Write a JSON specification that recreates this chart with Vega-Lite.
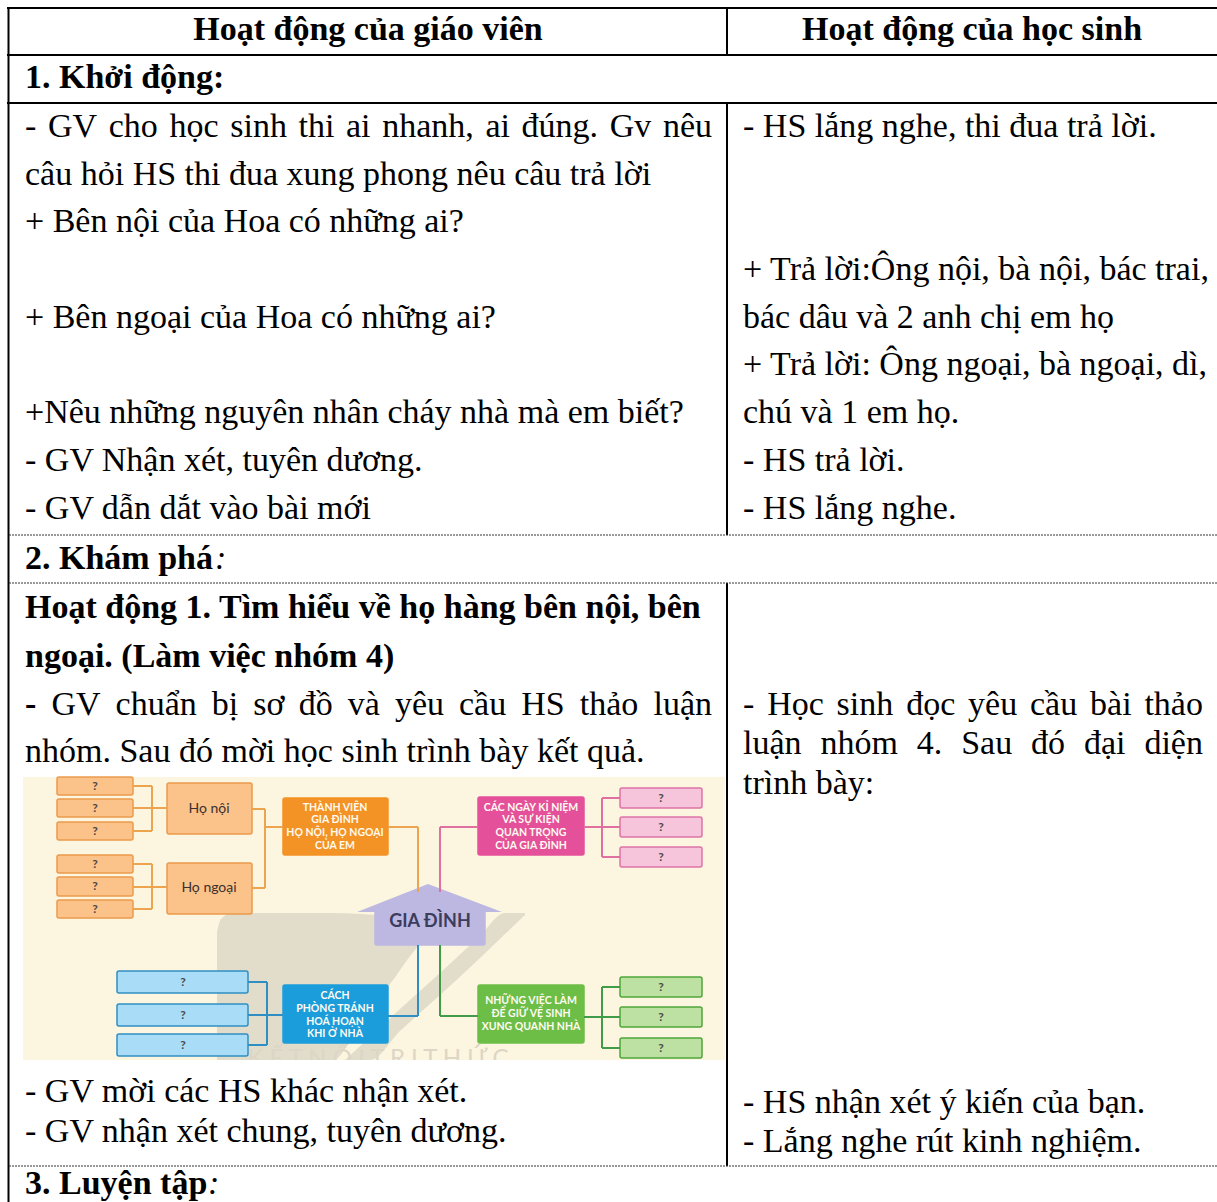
{
  "$schema": "https://vega.github.io/schema/vega-lite/v6.json",
  "width": 1217,
  "height": 1202,
  "autosize": {"type": "none"},
  "padding": 0,
  "background": "white",
  "config": {"view": {"stroke": null}},
  "resolve": {"scale": {"color": "independent", "stroke": "independent"}},
  "datasets": {
    "boxes": [
      {"x1": 57, "x2": 133, "y1": 777, "y2": 795, "kind": "osmall"},
      {"x1": 57, "x2": 133, "y1": 799, "y2": 817, "kind": "osmall"},
      {"x1": 57, "x2": 133, "y1": 822, "y2": 840, "kind": "osmall"},
      {"x1": 57, "x2": 133, "y1": 855, "y2": 873, "kind": "osmall"},
      {"x1": 57, "x2": 133, "y1": 877, "y2": 896, "kind": "osmall"},
      {"x1": 57, "x2": 133, "y1": 900, "y2": 918, "kind": "osmall"},
      {"x1": 167, "x2": 252, "y1": 783, "y2": 834, "kind": "omid"},
      {"x1": 167, "x2": 252, "y1": 863, "y2": 914, "kind": "omid"},
      {"x1": 283, "x2": 388, "y1": 798, "y2": 855, "kind": "odark"},
      {"x1": 478, "x2": 584, "y1": 797, "y2": 855, "kind": "pdark"},
      {"x1": 620, "x2": 702, "y1": 788, "y2": 808, "kind": "psmall"},
      {"x1": 620, "x2": 702, "y1": 817, "y2": 837, "kind": "psmall"},
      {"x1": 620, "x2": 702, "y1": 847, "y2": 867, "kind": "psmall"},
      {"x1": 117, "x2": 248, "y1": 971, "y2": 993, "kind": "bsmall"},
      {"x1": 117, "x2": 248, "y1": 1004, "y2": 1026, "kind": "bsmall"},
      {"x1": 117, "x2": 248, "y1": 1034, "y2": 1056, "kind": "bsmall"},
      {"x1": 283, "x2": 388, "y1": 985, "y2": 1043, "kind": "bdark"},
      {"x1": 478, "x2": 584, "y1": 985, "y2": 1043, "kind": "gdark"},
      {"x1": 620, "x2": 702, "y1": 977, "y2": 997, "kind": "gsmall"},
      {"x1": 620, "x2": 702, "y1": 1007, "y2": 1027, "kind": "gsmall"},
      {"x1": 620, "x2": 702, "y1": 1038, "y2": 1058, "kind": "gsmall"},
      {"x1": 375, "x2": 485, "y1": 911, "y2": 945, "kind": "house"}
    ],
    "panels": [
      {"x1": 23, "x2": 725, "y1": 777, "y2": 1060, "kind": "bg"},
      {"x1": 23, "x2": 725, "y1": 1060, "y2": 1070, "kind": "cover"}
    ],
    "wm": [
      {"x": 217, "top": 932, "bot": 1060, "part": "a"},
      {"x": 221, "top": 919, "bot": 1060, "part": "a"},
      {"x": 232, "top": 913, "bot": 1060, "part": "a"},
      {"x": 333, "top": 913, "bot": 1060, "part": "a"},
      {"x": 360, "top": 914, "bot": 1024, "part": "a"},
      {"x": 390, "top": 917, "bot": 984, "part": "a"},
      {"x": 420, "top": 925, "bot": 944, "part": "a"},
      {"x": 428, "top": 934, "bot": 936, "part": "a"},
      {"x": 345, "top": 1060, "bot": 1060, "part": "b"},
      {"x": 370, "top": 1037, "bot": 1060, "part": "b"},
      {"x": 400, "top": 1009, "bot": 1031, "part": "b"},
      {"x": 440, "top": 973, "bot": 995, "part": "b"},
      {"x": 480, "top": 936, "bot": 958, "part": "b"},
      {"x": 505, "top": 913, "bot": 934, "part": "b"},
      {"x": 525, "top": 913, "bot": 915, "part": "b"}
    ],
    "roof": [
      {"x": 357, "y": 912, "base": 912},
      {"x": 428, "y": 884, "base": 912},
      {"x": 502, "y": 912, "base": 912}
    ],
    "links": [
      {"x1": 133, "x2": 152, "y1": 786, "y2": 786, "g": "o"},
      {"x1": 152, "x2": 152, "y1": 786, "y2": 831, "g": "o"},
      {"x1": 133, "x2": 152, "y1": 831, "y2": 831, "g": "o"},
      {"x1": 133, "x2": 167, "y1": 808, "y2": 808, "g": "o"},
      {"x1": 133, "x2": 152, "y1": 864, "y2": 864, "g": "o"},
      {"x1": 152, "x2": 152, "y1": 864, "y2": 909, "g": "o"},
      {"x1": 133, "x2": 152, "y1": 909, "y2": 909, "g": "o"},
      {"x1": 133, "x2": 167, "y1": 887, "y2": 887, "g": "o"},
      {"x1": 252, "x2": 265, "y1": 809, "y2": 809, "g": "o"},
      {"x1": 265, "x2": 265, "y1": 809, "y2": 888, "g": "o"},
      {"x1": 252, "x2": 265, "y1": 888, "y2": 888, "g": "o"},
      {"x1": 265, "x2": 283, "y1": 827, "y2": 827, "g": "o"},
      {"x1": 388, "x2": 418, "y1": 827, "y2": 827, "g": "o"},
      {"x1": 418, "x2": 418, "y1": 827, "y2": 892, "g": "o"},
      {"x1": 440, "x2": 440, "y1": 827, "y2": 892, "g": "p"},
      {"x1": 440, "x2": 478, "y1": 827, "y2": 827, "g": "p"},
      {"x1": 584, "x2": 620, "y1": 827, "y2": 827, "g": "p"},
      {"x1": 602, "x2": 602, "y1": 798, "y2": 857, "g": "p"},
      {"x1": 602, "x2": 620, "y1": 798, "y2": 798, "g": "p"},
      {"x1": 602, "x2": 620, "y1": 857, "y2": 857, "g": "p"},
      {"x1": 418, "x2": 418, "y1": 945, "y2": 1016, "g": "b"},
      {"x1": 388, "x2": 418, "y1": 1016, "y2": 1016, "g": "b"},
      {"x1": 248, "x2": 267, "y1": 982, "y2": 982, "g": "b"},
      {"x1": 267, "x2": 267, "y1": 982, "y2": 1045, "g": "b"},
      {"x1": 248, "x2": 267, "y1": 1045, "y2": 1045, "g": "b"},
      {"x1": 248, "x2": 283, "y1": 1015, "y2": 1015, "g": "b"},
      {"x1": 440, "x2": 440, "y1": 945, "y2": 1016, "g": "g"},
      {"x1": 440, "x2": 478, "y1": 1016, "y2": 1016, "g": "g"},
      {"x1": 584, "x2": 620, "y1": 1017, "y2": 1017, "g": "g"},
      {"x1": 602, "x2": 602, "y1": 987, "y2": 1048, "g": "g"},
      {"x1": 602, "x2": 620, "y1": 987, "y2": 987, "g": "g"},
      {"x1": 602, "x2": 620, "y1": 1048, "y2": 1048, "g": "g"}
    ],
    "qmarks": [
      {"x": 95, "y": 786}, {"x": 95, "y": 808}, {"x": 95, "y": 831},
      {"x": 95, "y": 864}, {"x": 95, "y": 886}, {"x": 95, "y": 909},
      {"x": 661, "y": 798}, {"x": 661, "y": 827}, {"x": 661, "y": 857},
      {"x": 183, "y": 982}, {"x": 183, "y": 1015}, {"x": 183, "y": 1045},
      {"x": 661, "y": 987}, {"x": 661, "y": 1017}, {"x": 661, "y": 1048}
    ],
    "boxlabels": [
      {"t": "THÀNH VIÊN", "x": 335, "y": 808},
      {"t": "GIA ĐÌNH", "x": 335, "y": 820},
      {"t": "HỌ NỘI, HỌ NGOẠI", "x": 335, "y": 833},
      {"t": "CỦA EM", "x": 335, "y": 846},
      {"t": "CÁC NGÀY KỈ NIỆM", "x": 531, "y": 808},
      {"t": "VÀ SỰ KIỆN", "x": 531, "y": 820},
      {"t": "QUAN TRỌNG", "x": 531, "y": 833},
      {"t": "CỦA GIA ĐÌNH", "x": 531, "y": 846},
      {"t": "CÁCH", "x": 335, "y": 996},
      {"t": "PHÒNG TRÁNH", "x": 335, "y": 1009},
      {"t": "HOÁ HOẠN", "x": 335, "y": 1022},
      {"t": "KHI Ở NHÀ", "x": 335, "y": 1034},
      {"t": "NHỮNG VIỆC LÀM", "x": 531, "y": 1001},
      {"t": "ĐỂ GIỮ VỆ SINH", "x": 531, "y": 1014},
      {"t": "XUNG QUANH NHÀ", "x": 531, "y": 1027}
    ],
    "midlabels": [
      {"t": "Họ nội", "x": 209, "y": 809},
      {"t": "Họ ngoại", "x": 209, "y": 888}
    ],
    "lines": [
      {"x1": 7, "x2": 1217, "y1": 8, "y2": 8, "k": "solid"},
      {"x1": 7, "x2": 1217, "y1": 55, "y2": 55, "k": "solid"},
      {"x1": 7, "x2": 1217, "y1": 103, "y2": 103, "k": "solid"},
      {"x1": 8.5, "x2": 8.5, "y1": 7, "y2": 1202, "k": "solid"},
      {"x1": 727, "x2": 727, "y1": 8, "y2": 55, "k": "solid"},
      {"x1": 727, "x2": 727, "y1": 103, "y2": 535, "k": "solid"},
      {"x1": 727, "x2": 727, "y1": 583, "y2": 1166, "k": "solid"},
      {"x1": 9, "x2": 1217, "y1": 535, "y2": 535, "k": "dash"},
      {"x1": 9, "x2": 1217, "y1": 583, "y2": 583, "k": "dash"},
      {"x1": 9, "x2": 1217, "y1": 1166, "y2": 1166, "k": "dash"}
    ],
    "cells": [
      {"t": "Hoạt động của giáo viên", "x": 368, "y": 40, "s": "h"},
      {"t": "Hoạt động của học sinh", "x": 972, "y": 40, "s": "h"},
      {"t": "1. Khởi động:", "x": 25, "y": 88, "s": "b"},
      {"t": "-", "x": 25, "y": 137, "s": "n"},
      {"t": "GV", "x": 47.9, "y": 137, "s": "n"},
      {"t": "cho", "x": 108.7, "y": 137, "s": "n"},
      {"t": "học", "x": 169.4, "y": 137, "s": "n"},
      {"t": "sinh", "x": 230.2, "y": 137, "s": "n"},
      {"t": "thi", "x": 298.5, "y": 137, "s": "n"},
      {"t": "ai", "x": 346, "y": 137, "s": "n"},
      {"t": "nhanh,", "x": 382.2, "y": 137, "s": "n"},
      {"t": "ai", "x": 485.4, "y": 137, "s": "n"},
      {"t": "đúng.", "x": 521.6, "y": 137, "s": "n"},
      {"t": "Gv", "x": 609.7, "y": 137, "s": "n"},
      {"t": "nêu", "x": 662.9, "y": 137, "s": "n"},
      {"t": "câu hỏi HS thi đua xung phong nêu câu trả lời", "x": 25, "y": 185, "s": "n"},
      {"t": "+ Bên nội của Hoa có những ai?", "x": 25, "y": 232, "s": "n"},
      {"t": "+ Bên ngoại của Hoa có những ai?", "x": 25, "y": 328, "s": "n"},
      {"t": "+Nêu những nguyên nhân cháy nhà mà em biết?", "x": 25, "y": 423, "s": "n"},
      {"t": "- GV Nhận xét, tuyên dương.", "x": 25, "y": 471, "s": "n"},
      {"t": "- GV dẫn dắt vào bài mới", "x": 25, "y": 519, "s": "n"},
      {"t": "- HS lắng nghe, thi đua trả lời.", "x": 743, "y": 137, "s": "n"},
      {"t": "+ Trả lời:Ông nội, bà nội, bác trai,", "x": 743, "y": 280, "s": "n"},
      {"t": "bác dâu và 2 anh chị em họ", "x": 743, "y": 328, "s": "n"},
      {"t": "+ Trả lời: Ông ngoại, bà ngoại, dì,", "x": 743, "y": 375, "s": "n"},
      {"t": "chú và 1 em họ.", "x": 743, "y": 423, "s": "n"},
      {"t": "- HS trả lời.", "x": 743, "y": 471, "s": "n"},
      {"t": "- HS lắng nghe.", "x": 743, "y": 519, "s": "n"},
      {"t": "2. Khám phá", "x": 25, "y": 569, "s": "b"},
      {"t": ":", "x": 215, "y": 569, "s": "i"},
      {"t": "Hoạt động 1. Tìm hiểu về họ hàng bên nội, bên", "x": 25, "y": 618, "s": "b"},
      {"t": "ngoại. (Làm việc nhóm 4)", "x": 25, "y": 667, "s": "b"},
      {"t": "-", "x": 25, "y": 715, "s": "b"},
      {"t": "GV", "x": 51.4, "y": 715, "s": "n"},
      {"t": "chuẩn", "x": 115.6, "y": 715, "s": "n"},
      {"t": "bị", "x": 211.8, "y": 715, "s": "n"},
      {"t": "sơ", "x": 253.3, "y": 715, "s": "n"},
      {"t": "đồ", "x": 298.7, "y": 715, "s": "n"},
      {"t": "và", "x": 347.7, "y": 715, "s": "n"},
      {"t": "yêu", "x": 394.9, "y": 715, "s": "n"},
      {"t": "cầu", "x": 459.0, "y": 715, "s": "n"},
      {"t": "HS", "x": 521.3, "y": 715, "s": "n"},
      {"t": "thảo", "x": 579.8, "y": 715, "s": "n"},
      {"t": "luận", "x": 653.5, "y": 715, "s": "n"},
      {"t": "nhóm. Sau đó mời học sinh trình bày kết quả.", "x": 25, "y": 762, "s": "n"},
      {"t": "-", "x": 743, "y": 715, "s": "n"},
      {"t": "Học", "x": 767.2, "y": 715, "s": "n"},
      {"t": "sinh", "x": 836.6, "y": 715, "s": "n"},
      {"t": "đọc", "x": 906.2, "y": 715, "s": "n"},
      {"t": "yêu", "x": 968.1, "y": 715, "s": "n"},
      {"t": "cầu", "x": 1030.0, "y": 715, "s": "n"},
      {"t": "bài", "x": 1090.1, "y": 715, "s": "n"},
      {"t": "thảo", "x": 1144.4, "y": 715, "s": "n"},
      {"t": "luận", "x": 743, "y": 754, "s": "n"},
      {"t": "nhóm", "x": 820.5, "y": 754, "s": "n"},
      {"t": "4.", "x": 916.8, "y": 754, "s": "n"},
      {"t": "Sau", "x": 961.2, "y": 754, "s": "n"},
      {"t": "đó", "x": 1031.1, "y": 754, "s": "n"},
      {"t": "đại", "x": 1084.0, "y": 754, "s": "n"},
      {"t": "diện", "x": 1144.4, "y": 754, "s": "n"},
      {"t": "trình bày:", "x": 743, "y": 794, "s": "n"},
      {"t": "- GV mời các HS khác nhận xét.", "x": 25, "y": 1102, "s": "n"},
      {"t": "- GV nhận xét chung, tuyên dương.", "x": 25, "y": 1142, "s": "n"},
      {"t": "- HS nhận xét ý kiến của bạn.", "x": 743, "y": 1113, "s": "n"},
      {"t": "- Lắng nghe rút kinh nghiệm.", "x": 743, "y": 1152, "s": "n"},
      {"t": "3. Luyện tập", "x": 25, "y": 1194, "s": "b"},
      {"t": ":", "x": 208, "y": 1194, "s": "i"}
    ]
  },
  "layer": [
    {
      "data": {"name": "panels"},
      "transform": [{"filter": "datum.kind == 'bg'"}],
      "mark": {"type": "rect", "color": "#fcf5df"},
      "encoding": {
        "x": {"field": "x1", "type": "quantitative", "scale": {"domain": [0, 1217], "nice": false, "zero": false}, "axis": null},
        "x2": {"field": "x2"},
        "y": {"field": "y1", "type": "quantitative", "scale": {"domain": [0, 1202], "nice": false, "zero": false, "reverse": true}, "axis": null},
        "y2": {"field": "y2"}
      }
    },
    {
      "data": {"name": "wm"},
      "mark": {"type": "area", "color": "#e2dccb", "interpolate": "monotone"},
      "encoding": {
        "x": {"field": "x", "type": "quantitative", "scale": {"domain": [0, 1217], "nice": false, "zero": false}, "axis": null},
        "y": {"field": "top", "type": "quantitative", "scale": {"domain": [0, 1202], "nice": false, "zero": false, "reverse": true}, "axis": null},
        "y2": {"field": "bot"},
        "detail": {"field": "part", "type": "nominal"}
      }
    },
    {
      "data": {"values": [{"t": "K Ế T   N Ố I   T R I   T H Ứ C", "x": 378, "y": 1066}]},
      "mark": {"type": "text", "font": "Lato", "fontSize": 24, "color": "#ddd6c6", "baseline": "alphabetic", "align": "center"},
      "encoding": {
        "x": {"field": "x", "type": "quantitative", "scale": {"domain": [0, 1217], "nice": false, "zero": false}, "axis": null},
        "y": {"field": "y", "type": "quantitative", "scale": {"domain": [0, 1202], "nice": false, "zero": false, "reverse": true}, "axis": null},
        "text": {"field": "t"}
      }
    },
    {
      "data": {"name": "panels"},
      "transform": [{"filter": "datum.kind == 'cover'"}],
      "mark": {"type": "rect", "color": "#ffffff"},
      "encoding": {
        "x": {"field": "x1", "type": "quantitative", "scale": {"domain": [0, 1217], "nice": false, "zero": false}, "axis": null},
        "x2": {"field": "x2"},
        "y": {"field": "y1", "type": "quantitative", "scale": {"domain": [0, 1202], "nice": false, "zero": false, "reverse": true}, "axis": null},
        "y2": {"field": "y2"}
      }
    },
    {
      "data": {"name": "boxes"},
      "mark": {"type": "rect", "strokeWidth": 1.5, "cornerRadius": 2},
      "encoding": {
        "x": {"field": "x1", "type": "quantitative", "scale": {"domain": [0, 1217], "nice": false, "zero": false}, "axis": null},
        "x2": {"field": "x2"},
        "y": {"field": "y1", "type": "quantitative", "scale": {"domain": [0, 1202], "nice": false, "zero": false, "reverse": true}, "axis": null},
        "y2": {"field": "y2"},
        "color": {"field": "kind", "type": "nominal", "legend": null,
          "scale": {"domain": ["osmall", "omid", "odark", "pdark", "psmall", "bsmall", "bdark", "gdark", "gsmall", "house"],
                    "range": ["#fbc28a", "#fbc28a", "#f39325", "#e4519a", "#f6c5dc", "#a9dcf6", "#1b9ddc", "#6dbe47", "#bde0a3", "#bcb8e2"]}},
        "stroke": {"field": "kind", "type": "nominal", "legend": null,
          "scale": {"domain": ["osmall", "omid", "odark", "pdark", "psmall", "bsmall", "bdark", "gdark", "gsmall", "house"],
                    "range": ["#eb9a4c", "#eb9a4c", "#f39325", "#e4519a", "#dd74a8", "#2f8fc4", "#1b9ddc", "#6dbe47", "#4ea63a", "#bcb8e2"]}}
      }
    },
    {
      "data": {"name": "roof"},
      "mark": {"type": "area", "color": "#bcb8e2", "interpolate": "linear"},
      "encoding": {
        "x": {"field": "x", "type": "quantitative", "scale": {"domain": [0, 1217], "nice": false, "zero": false}, "axis": null},
        "y": {"field": "y", "type": "quantitative", "scale": {"domain": [0, 1202], "nice": false, "zero": false, "reverse": true}, "axis": null},
        "y2": {"field": "base"}
      }
    },
    {
      "data": {"name": "links"},
      "mark": {"type": "rule", "strokeWidth": 2},
      "encoding": {
        "x": {"field": "x1", "type": "quantitative", "scale": {"domain": [0, 1217], "nice": false, "zero": false}, "axis": null},
        "x2": {"field": "x2"},
        "y": {"field": "y1", "type": "quantitative", "scale": {"domain": [0, 1202], "nice": false, "zero": false, "reverse": true}, "axis": null},
        "y2": {"field": "y2"},
        "stroke": {"field": "g", "type": "nominal", "legend": null,
          "scale": {"domain": ["o", "p", "b", "g"], "range": ["#eda44e", "#e0709f", "#2f8fc4", "#3f9d4a"]}}
      }
    },
    {
      "data": {"name": "qmarks"},
      "mark": {"type": "text", "text": "?", "font": "Lato", "fontWeight": "bold", "fontSize": 12, "color": "#4a4a4a", "baseline": "middle", "align": "center"},
      "encoding": {
        "x": {"field": "x", "type": "quantitative", "scale": {"domain": [0, 1217], "nice": false, "zero": false}, "axis": null},
        "y": {"field": "y", "type": "quantitative", "scale": {"domain": [0, 1202], "nice": false, "zero": false, "reverse": true}, "axis": null}
      }
    },
    {
      "data": {"name": "boxlabels"},
      "mark": {"type": "text", "font": "Lato", "fontWeight": "bold", "fontSize": 10.5, "color": "#fffaf0", "baseline": "middle", "align": "center"},
      "encoding": {
        "x": {"field": "x", "type": "quantitative", "scale": {"domain": [0, 1217], "nice": false, "zero": false}, "axis": null},
        "y": {"field": "y", "type": "quantitative", "scale": {"domain": [0, 1202], "nice": false, "zero": false, "reverse": true}, "axis": null},
        "text": {"field": "t"}
      }
    },
    {
      "data": {"name": "midlabels"},
      "mark": {"type": "text", "font": "Lato", "fontSize": 14, "color": "#3a3030", "baseline": "middle", "align": "center"},
      "encoding": {
        "x": {"field": "x", "type": "quantitative", "scale": {"domain": [0, 1217], "nice": false, "zero": false}, "axis": null},
        "y": {"field": "y", "type": "quantitative", "scale": {"domain": [0, 1202], "nice": false, "zero": false, "reverse": true}, "axis": null},
        "text": {"field": "t"}
      }
    },
    {
      "data": {"values": [{"t": "GIA ĐÌNH", "x": 430, "y": 922}]},
      "mark": {"type": "text", "font": "Lato", "fontWeight": "bold", "fontSize": 18, "color": "#3c3c5c", "baseline": "middle", "align": "center"},
      "encoding": {
        "x": {"field": "x", "type": "quantitative", "scale": {"domain": [0, 1217], "nice": false, "zero": false}, "axis": null},
        "y": {"field": "y", "type": "quantitative", "scale": {"domain": [0, 1202], "nice": false, "zero": false, "reverse": true}, "axis": null},
        "text": {"field": "t"}
      }
    },
    {
      "data": {"name": "lines"},
      "transform": [{"filter": "datum.k == 'solid'"}],
      "mark": {"type": "rule", "strokeWidth": 2, "color": "#000000"},
      "encoding": {
        "x": {"field": "x1", "type": "quantitative", "scale": {"domain": [0, 1217], "nice": false, "zero": false}, "axis": null},
        "x2": {"field": "x2"},
        "y": {"field": "y1", "type": "quantitative", "scale": {"domain": [0, 1202], "nice": false, "zero": false, "reverse": true}, "axis": null},
        "y2": {"field": "y2"}
      }
    },
    {
      "data": {"name": "lines"},
      "transform": [{"filter": "datum.k == 'dash'"}],
      "mark": {"type": "rule", "strokeWidth": 1, "color": "#333333", "strokeDash": [2, 1]},
      "encoding": {
        "x": {"field": "x1", "type": "quantitative", "scale": {"domain": [0, 1217], "nice": false, "zero": false}, "axis": null},
        "x2": {"field": "x2"},
        "y": {"field": "y1", "type": "quantitative", "scale": {"domain": [0, 1202], "nice": false, "zero": false, "reverse": true}, "axis": null},
        "y2": {"field": "y2"}
      }
    },
    {
      "data": {"name": "cells"},
      "transform": [{"filter": "datum.s == 'h'"}],
      "mark": {"type": "text", "font": "Liberation Serif", "fontWeight": "bold", "fontSize": 34, "color": "#000000", "baseline": "alphabetic", "align": "center"},
      "encoding": {
        "x": {"field": "x", "type": "quantitative", "scale": {"domain": [0, 1217], "nice": false, "zero": false}, "axis": null},
        "y": {"field": "y", "type": "quantitative", "scale": {"domain": [0, 1202], "nice": false, "zero": false, "reverse": true}, "axis": null},
        "text": {"field": "t"}
      }
    },
    {
      "data": {"name": "cells"},
      "transform": [{"filter": "datum.s == 'b'"}],
      "mark": {"type": "text", "font": "Liberation Serif", "fontWeight": "bold", "fontSize": 34, "color": "#000000", "baseline": "alphabetic", "align": "left"},
      "encoding": {
        "x": {"field": "x", "type": "quantitative", "scale": {"domain": [0, 1217], "nice": false, "zero": false}, "axis": null},
        "y": {"field": "y", "type": "quantitative", "scale": {"domain": [0, 1202], "nice": false, "zero": false, "reverse": true}, "axis": null},
        "text": {"field": "t"}
      }
    },
    {
      "data": {"name": "cells"},
      "transform": [{"filter": "datum.s == 'n'"}],
      "mark": {"type": "text", "font": "Liberation Serif", "fontSize": 34, "color": "#000000", "baseline": "alphabetic", "align": "left"},
      "encoding": {
        "x": {"field": "x", "type": "quantitative", "scale": {"domain": [0, 1217], "nice": false, "zero": false}, "axis": null},
        "y": {"field": "y", "type": "quantitative", "scale": {"domain": [0, 1202], "nice": false, "zero": false, "reverse": true}, "axis": null},
        "text": {"field": "t"}
      }
    },
    {
      "data": {"name": "cells"},
      "transform": [{"filter": "datum.s == 'i'"}],
      "mark": {"type": "text", "font": "Liberation Serif", "fontStyle": "italic", "fontSize": 34, "color": "#000000", "baseline": "alphabetic", "align": "left"},
      "encoding": {
        "x": {"field": "x", "type": "quantitative", "scale": {"domain": [0, 1217], "nice": false, "zero": false}, "axis": null},
        "y": {"field": "y", "type": "quantitative", "scale": {"domain": [0, 1202], "nice": false, "zero": false, "reverse": true}, "axis": null},
        "text": {"field": "t"}
      }
    }
  ]
}
